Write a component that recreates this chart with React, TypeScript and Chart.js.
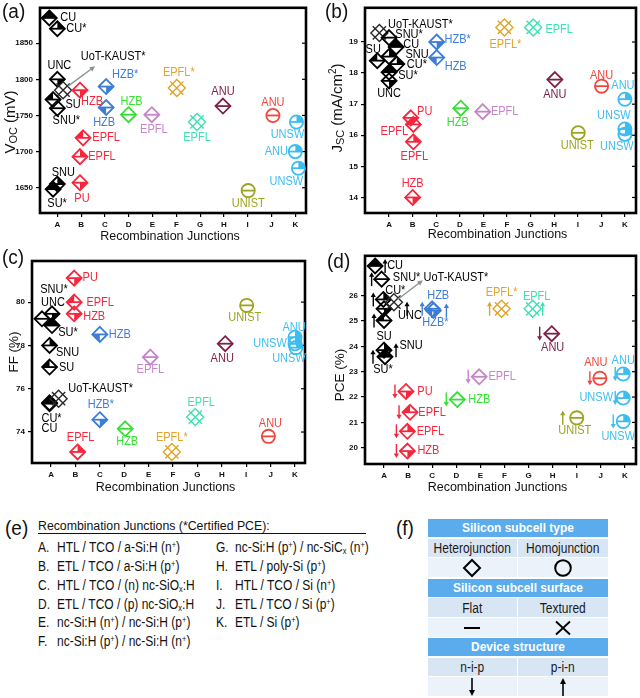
import React, { useEffect, useRef } from 'react';
import { Chart, registerables } from 'chart.js';

Chart.register(...registerables);

const FONT = '"Liberation Sans", Arial, sans-serif';
Chart.defaults.font.family = FONT;

// ---------------- data ----------------
const categories = ['A', 'B', 'C', 'D', 'E', 'F', 'G', 'H', 'I', 'J', 'K'];

const deviceNames = [
  'CU', 'CU*', 'UNC', 'UoT-KAUST*', 'SU', 'SU*', 'SNU', 'SNU*',
  'PU', 'EPFL', 'EPFL', 'HZB',
  'HZB', 'HZB*',
  'HZB', 'EPFL', 'EPFL*', 'EPFL', 'ANU', 'UNIST', 'ANU',
  'ANU', 'UNSW', 'UNSW',
];
const deviceJunction = [0, 0, 0, 0, 0, 0, 0, 0, 1, 1, 1, 1, 2, 2, 3, 4, 5, 6, 7, 8, 9, 10, 10, 10];
const deviceSubcell = [
  'hetero', 'hetero', 'hetero', 'hetero', 'hetero', 'hetero', 'hetero', 'hetero',
  'hetero', 'hetero', 'hetero', 'hetero', 'hetero', 'hetero',
  'hetero', 'hetero', 'hetero', 'hetero', 'hetero', 'homo', 'homo', 'homo', 'homo', 'homo',
];
const deviceSurface = [
  'flat', 'flat', 'flat', 'textured', 'flat', 'flat', 'flat', 'flat',
  'flat', 'flat', 'flat', 'flat', 'flat', 'flat',
  'flat', 'flat', 'textured', 'textured', 'flat', 'flat', 'flat', 'flat', 'flat', 'flat',
];
const deviceStructure = [
  'pin', 'pin', 'pin', 'pin', 'pin', 'pin', 'pin', 'pin',
  'nip', 'nip', 'nip', 'nip', 'pin', 'pin',
  'nip', 'nip', 'pin', 'pin', 'nip', 'pin', 'nip', 'nip', 'nip', 'nip',
];

const vocValues = [1885, 1870, 1800, 1785, 1772, 1648, 1655, 1760, 1657, 1719, 1693, 1785, 1761, 1790, 1751, 1751, 1788, 1741, 1763, 1646, 1750, 1700, 1741, 1677];
const jscValues = [18.84, 18.29, 17.75, 19.29, 18.4, 18.03, 18.53, 19.14, 16.56, 16.35, 15.79, 14.0, 18.5, 19.0, 16.87, 16.76, 19.47, 19.47, 17.79, 16.08, 17.58, 17.16, 16.2, 16.03];
const ffValues = [75.35, 75.31, 79.46, 75.54, 77.0, 78.92, 78.0, 79.23, 81.11, 80.0, 73.08, 79.46, 78.51, 74.57, 74.15, 77.46, 73.08, 74.69, 78.08, 79.85, 73.8, 78.38, 78.08, 77.9];
const pceValues = [27.17, 25.85, 25.48, 25.74, 25.02, 23.59, 23.85, 26.65, 22.22, 21.4, 20.65, 19.87, 25.48, 25.41, 21.9, 22.8, 25.48, 25.48, 24.5, 21.18, 22.74, 22.91, 21.96, 21.04];

// horizontal spread of overlapping devices within a junction column (category units)
const vocSpread = [-0.34, 0, 0, 0.24, -0.18, -0.18, 0, 0, -0.05, 0.08, -0.05, -0.05, 0.05, 0.05, -0.01, -0.03, 0.02, -0.13, -0.04, 0.02, 0.06, 0, 0.05, 0.13];
const jscSpread = [0.3, 0.33, 0, -0.41, -0.5, 0, 0, 0, -0.08, 0.03, 0.03, 0, 0.02, 0.02, 0.04, -0.03, -0.11, 0.11, 0.03, 0.02, 0.01, 0, 0, 0];
const ffSpread = [-0.06, -0.06, 0.04, 0.31, -0.06, 0.04, -0.06, -0.37, -0.05, -0.05, 0.09, -0.05, 0, 0, 0.04, 0.07, -0.05, -0.09, 0.14, 0.02, -0.09, 0, 0, 0.04];
const pceSpread = [-0.37, -0.03, 0, 0.41, 0, 0.04, 0, -0.1, -0.09, 0.08, -0.03, -0.03, 0, 0.05, 0.04, -0.05, -0.12, 0.17, -0.04, 0, -0.04, -0.07, -0.07, -0.07];

const vocTicks = [1650, 1700, 1750, 1800, 1850];
const jscTicks = [14, 15, 16, 17, 18, 19];
const ffTicks = [74, 76, 78, 80];
const pceTicks = [20, 21, 22, 23, 24, 25, 26];

const xTitle = 'Recombination Junctions';

// ---------------- styles / layout ----------------
const junctionColors = ['#000000', '#f7263c', '#3d7dd8', '#35e035', '#c685c9', '#e0a42a', '#3ee0b4', '#7c2347', '#9ba41f', '#f2463d', '#3cbdf0'];
const deviceFill = ['top', 'tr', 'br', 'none', 'tl', 'top', 'tr', 'none', 'br', 'tl', 'tr', 'br', 'bl', 'br', 'none', 'none', 'none', 'none', 'none', 'none', 'none', 'tr', 'tr', 'tr'];

const vocLabelOffsets = [[19, 0], [19, 0], [2, -14], [50, -34], [20, 5], [4, 14], [6, -11], [9, 12], [2, 16], [23, 0], [22, 0], [12, 11], [-2, 15], [19, -12], [3, -13], [2, 15], [2, -15], [0, 16], [0, -14], [0, 13], [0, -13], [-19, 0], [-9, 13], [-12, 13]];
const jscLabelOffsets = [[15, -2], [20, 1], [0, 13], [41, -8], [-4, -11], [19, 3], [28, -2], [20, -3], [14, -6], [-19, 7], [1, 15], [0, -14], [19, 9], [21, -2], [-3, 14], [22, 0], [1, 17], [26, 2], [0, 15], [-1, 13], [0, -11], [-2, -14], [-11, -13], [-8, 12]];
const ffLabelOffsets = [[0, 26], [2, 15], [1, -11], [42, -10], [17, 1], [16, 7], [18, 7], [12, -29], [16, 0], [26, 0], [3, -14], [20, 3], [20, 0], [1, -15], [2, 13], [0, 12], [0, -14], [6, -14], [-3, 15], [-2, 12], [2, -13], [-1, -10], [-25, 0], [-7, 11]];
const pceLabelOffsets = [[20, 0], [12, -9], [26, 7], [62, -25], [0, 16], [-2, 13], [27, -5], [25, -2], [19, 0], [22, 0], [23, 0], [21, 0], [6, -13], [2, 12], [22, 0], [23, 0], [0, -16], [4, -12], [1, 14], [-2, 13], [-4, -16], [0, -13], [-27, 0], [-5, 15]];
const pceArrowOffsets = [10, -10, 23, null, -10, -12, 12, -10, -11, -11, -11, -11, -10, 13, -11, -11, -12, 10, -12, -14, -10, -8, -8, -10];

type Part = [string, number, number];
type PanelCfg = {
  left: number; top: number; w: number; h: number;
  padTop: number; padRight: number; yAxisW: number; xAxisH: number;
  xMin: number; xMax: number; yMin: number; yMax: number;
  values: number[]; spread: number[]; yTicks: number[];
  labelOffsets: number[][]; arrows: (number | null)[] | null;
  leader: { index: number; from: number[]; to: number[] } | null;
  yTitle: Part[]; yTitlePos: number[]; xTitleDy: number;
};

const panels: PanelCfg[] = [
  {
    left: 0, top: 0, w: 320, h: 248, padTop: 3, padRight: 14, yAxisW: 40, xAxisH: 35,
    xMin: -0.73, xMax: 10.45, yMin: 1615, yMax: 1899,
    values: vocValues, spread: vocSpread, yTicks: vocTicks, labelOffsets: vocLabelOffsets, arrows: null,
    leader: { index: 3, from: [5, -4], to: [32, -24] },
    yTitle: [['V', 15, 0], ['OC', 11, 3], [' (mV)', 15, 0]], yTitlePos: [11, 122], xTitleDy: 24,
  },
  {
    left: 320, top: 0, w: 320, h: 248, padTop: 3, padRight: 4, yAxisW: 45, xAxisH: 35,
    xMin: -1.02, xMax: 10.47, yMin: 13.5, yMax: 20.1,
    values: jscValues, spread: jscSpread, yTicks: jscTicks, labelOffsets: jscLabelOffsets, arrows: null, leader: null,
    yTitle: [['J', 15, 0], ['SC', 11, 3], [' (mA/cm', 15, 0], ['2', 10, -5], [')', 15, 0]], yTitlePos: [18, 108], xTitleDy: 22,
  },
  {
    left: 0, top: 248, w: 320, h: 252, padTop: 13, padRight: 15, yAxisW: 32, xAxisH: 37,
    xMin: -0.78, xMax: 10.41, yMin: 72.57, yMax: 81.9,
    values: ffValues, spread: ffSpread, yTicks: ffTicks, labelOffsets: ffLabelOffsets, arrows: null, leader: null,
    yTitle: [['FF (%)', 13.5, 0]], yTitlePos: [14, 104], xTitleDy: 25,
  },
  {
    left: 320, top: 248, w: 320, h: 252, padTop: 7, padRight: 4, yAxisW: 45, xAxisH: 36,
    xMin: -0.79, xMax: 10.46, yMin: 19.36, yMax: 27.57,
    values: pceValues, spread: pceSpread, yTicks: pceTicks, labelOffsets: pceLabelOffsets, arrows: pceArrowOffsets,
    leader: { index: 3, from: [4, -3], to: [29, -22] },
    yTitle: [['PCE (%)', 13.5, 0]], yTitlePos: [20, 127], xTitleDy: 24,
  },
];

// ---------------- drawing helpers ----------------
function drawMarker(ctx: CanvasRenderingContext2D, x: number, y: number, i: number) {
  const color = i === 3 ? '#2a2a2a' : junctionColors[deviceJunction[i]];
  const fill = deviceFill[i];
  const textured = deviceSurface[i] === 'textured';
  ctx.save();
  ctx.translate(x, y);
  ctx.strokeStyle = color;
  ctx.fillStyle = color;
  ctx.lineWidth = textured ? 1.4 : 1.8;
  if (deviceSubcell[i] === 'hetero') {
    const r = textured ? 8.5 : 7.5;
    const T = [0, -r], R = [r, 0], B = [0, r], L = [-r, 0], C = [0, 0];
    const polys: Record<string, number[][]> = {
      top: [L, T, R], bottom: [L, B, R], tl: [C, L, T], tr: [C, T, R], br: [C, R, B], bl: [C, B, L], right: [T, R, B], left: [T, L, B],
    };
    if (fill !== 'none' && polys[fill]) {
      const p = polys[fill];
      ctx.beginPath();
      ctx.moveTo(p[0][0], p[0][1]);
      for (let k = 1; k < p.length; k++) ctx.lineTo(p[k][0], p[k][1]);
      ctx.closePath();
      ctx.fill();
    }
    ctx.beginPath();
    ctx.moveTo(T[0], T[1]); ctx.lineTo(R[0], R[1]); ctx.lineTo(B[0], B[1]); ctx.lineTo(L[0], L[1]); ctx.closePath();
    ctx.stroke();
    ctx.beginPath();
    if (textured) {
      const e = r * 0.78;
      ctx.moveTo(-e, -e); ctx.lineTo(e, e);
      ctx.moveTo(-e, e); ctx.lineTo(e, -e);
    } else {
      ctx.moveTo(-r, 0); ctx.lineTo(r, 0);
    }
    ctx.stroke();
  } else {
    const r = 6.6;
    const arcs: Record<string, number[]> = {
      tr: [-Math.PI / 2, 0], tl: [Math.PI, 1.5 * Math.PI], br: [0, Math.PI / 2], bl: [Math.PI / 2, Math.PI],
      top: [Math.PI, 2 * Math.PI], bottom: [0, Math.PI],
    };
    if (fill !== 'none' && arcs[fill]) {
      ctx.beginPath();
      ctx.moveTo(0, 0);
      ctx.arc(0, 0, r, arcs[fill][0], arcs[fill][1]);
      ctx.closePath();
      ctx.fill();
    }
    ctx.beginPath();
    ctx.arc(0, 0, r, 0, Math.PI * 2);
    ctx.stroke();
    ctx.beginPath();
    ctx.moveTo(-r, 0); ctx.lineTo(r, 0);
    ctx.stroke();
  }
  ctx.restore();
}

function drawStructureArrow(ctx: CanvasRenderingContext2D, x: number, y: number, up: boolean, color: string) {
  ctx.save();
  ctx.strokeStyle = color;
  ctx.fillStyle = color;
  ctx.lineWidth = 1.4;
  const half = 7;
  const tip = up ? y - half : y + half;
  const tail = up ? y + half : y - half;
  const dir = up ? 1 : -1;
  ctx.beginPath();
  ctx.moveTo(x, tail);
  ctx.lineTo(x, tip + dir * 3);
  ctx.stroke();
  ctx.beginPath();
  ctx.moveTo(x, tip);
  ctx.lineTo(x - 2.6, tip + dir * 4.5);
  ctx.lineTo(x + 2.6, tip + dir * 4.5);
  ctx.closePath();
  ctx.fill();
  ctx.restore();
}

function drawLeader(ctx: CanvasRenderingContext2D, x0: number, y0: number, x1: number, y1: number) {
  ctx.save();
  ctx.strokeStyle = '#8a9393';
  ctx.fillStyle = '#8a9393';
  ctx.lineWidth = 1.4;
  const ang = Math.atan2(y1 - y0, x1 - x0);
  ctx.beginPath();
  ctx.moveTo(x0, y0);
  ctx.lineTo(x1 - Math.cos(ang) * 3, y1 - Math.sin(ang) * 3);
  ctx.stroke();
  ctx.beginPath();
  ctx.moveTo(x1, y1);
  ctx.lineTo(x1 - Math.cos(ang - 0.45) * 6, y1 - Math.sin(ang - 0.45) * 6);
  ctx.lineTo(x1 - Math.cos(ang + 0.45) * 6, y1 - Math.sin(ang + 0.45) * 6);
  ctx.closePath();
  ctx.fill();
  ctx.restore();
}

function drawRotatedTitle(ctx: CanvasRenderingContext2D, parts: Part[], cx: number, cy: number) {
  ctx.save();
  ctx.translate(cx, cy);
  ctx.rotate(-Math.PI / 2);
  ctx.textBaseline = 'middle';
  ctx.textAlign = 'left';
  ctx.fillStyle = '#111';
  let total = 0;
  for (const [t, s] of parts) {
    ctx.font = `${s}px ${FONT}`;
    total += ctx.measureText(t).width;
  }
  let x = -total / 2;
  for (const [t, s, dy] of parts) {
    ctx.font = `${s}px ${FONT}`;
    ctx.fillText(t, x, dy);
    x += ctx.measureText(t).width;
  }
  ctx.restore();
}

function makePlugin(cfg: PanelCfg) {
  return {
    id: 'panelDecor',
    afterDraw(chart: any) {
      const { ctx, chartArea: a, scales } = chart;
      const meta = chart.getDatasetMeta(0);
      ctx.save();
      // frame
      ctx.strokeStyle = '#000';
      ctx.lineWidth = 2.6;
      ctx.strokeRect(a.left, a.top, a.right - a.left, a.bottom - a.top);
      // inner ticks on right edge
      ctx.lineWidth = 1.2;
      for (const t of cfg.yTicks) {
        const py = scales.y.getPixelForValue(t);
        ctx.beginPath();
        ctx.moveTo(a.right - 4, py);
        ctx.lineTo(a.right, py);
        ctx.stroke();
      }
      // x title
      ctx.font = `12.5px ${FONT}`;
      ctx.fillStyle = '#111';
      ctx.textAlign = 'center';
      ctx.textBaseline = 'middle';
      ctx.fillText(xTitle, (a.left + a.right) / 2 - 3, a.bottom + cfg.xTitleDy);
      // y title
      drawRotatedTitle(ctx, cfg.yTitle, cfg.yTitlePos[0], cfg.yTitlePos[1]);
      // markers
      const pts = meta.data.map((el: any) => [el.x, el.y]);
      pts.forEach((p: number[], i: number) => drawMarker(ctx, p[0], p[1], i));
      // device-structure arrows
      if (cfg.arrows) {
        pts.forEach((p: number[], i: number) => {
          const off = cfg.arrows![i];
          if (off === null || off === undefined) return;
          drawStructureArrow(ctx, p[0] + off, p[1], deviceStructure[i] === 'pin', junctionColors[deviceJunction[i]]);
        });
      }
      // leader arrow
      if (cfg.leader) {
        const p = pts[cfg.leader.index];
        drawLeader(ctx, p[0] + cfg.leader.from[0], p[1] + cfg.leader.from[1], p[0] + cfg.leader.to[0], p[1] + cfg.leader.to[1]);
      }
      // labels
      ctx.font = `11px ${FONT}`;
      ctx.textAlign = 'center';
      ctx.textBaseline = 'middle';
      pts.forEach((p: number[], i: number) => {
        const o = cfg.labelOffsets[i];
        ctx.save();
        ctx.translate(p[0] + o[0], p[1] + o[1]);
        ctx.scale(1, 1.12);
        ctx.fillStyle = junctionColors[deviceJunction[i]];
        ctx.fillText(deviceNames[i], 0, 0);
        ctx.restore();
      });
      ctx.restore();
    },
  };
}

function Panel({ cfg }: { cfg: PanelCfg }) {
  const ref = useRef<HTMLCanvasElement>(null);
  useEffect(() => {
    const canvas = ref.current;
    if (!canvas) return;
    const chart = new Chart(canvas, {
      type: 'scatter',
      data: {
        datasets: [
          {
            data: cfg.values.map((v, i) => ({ x: deviceJunction[i] + cfg.spread[i], y: v })),
            pointRadius: 0,
            pointHoverRadius: 0,
            showLine: false,
          },
        ],
      },
      options: {
        animation: false,
        responsive: false,
        events: [],
        layout: { padding: { left: 0, top: cfg.padTop, right: cfg.padRight, bottom: 0 } },
        plugins: { legend: { display: false }, tooltip: { enabled: false } },
        scales: {
          x: {
            type: 'linear',
            min: cfg.xMin,
            max: cfg.xMax,
            afterBuildTicks: (s: any) => { s.ticks = categories.map((_, i) => ({ value: i })); },
            afterFit: (s: any) => { s.height = cfg.xAxisH; },
            ticks: {
              callback: (v: any) => categories[Math.round(Number(v))] ?? '',
              font: { size: 8, weight: 'bold' },
              color: '#111',
              padding: 3,
              maxRotation: 0,
              autoSkip: false,
            },
            grid: { drawOnChartArea: false, drawTicks: true, tickLength: 4, color: '#000', lineWidth: 1.2 },
            border: { display: false },
          },
          y: {
            type: 'linear',
            min: cfg.yMin,
            max: cfg.yMax,
            afterBuildTicks: (s: any) => { s.ticks = cfg.yTicks.map((v) => ({ value: v })); },
            afterFit: (s: any) => { s.width = cfg.yAxisW; },
            ticks: {
              callback: (v: any) => String(v),
              font: { size: 8, weight: 'bold' },
              color: '#111',
              padding: 3,
              autoSkip: false,
            },
            grid: { drawOnChartArea: false, drawTicks: true, tickLength: 4, color: '#000', lineWidth: 1.2 },
            border: { display: false },
          },
        },
      } as any,
      plugins: [makePlugin(cfg)],
    });
    return () => chart.destroy();
  }, [cfg]);
  return (
    <canvas
      ref={ref}
      width={cfg.w}
      height={cfg.h}
      style={{ position: 'absolute', left: cfg.left, top: cfg.top, width: cfg.w, height: cfg.h }}
    />
  );
}

// ---------------- (e) and (f) content ----------------
const Sup = ({ c }: { c: string }) => (
  <span style={{ fontSize: '0.62em', position: 'relative', top: '-0.45em' }}>{c}</span>
);
const Sub = ({ c }: { c: string }) => (
  <span style={{ fontSize: '0.62em', position: 'relative', top: '0.25em' }}>{c}</span>
);

const junctionDescriptions: React.ReactNode[] = [
  <>HTL / TCO / a-Si:H (n<Sup c="+" />)</>,
  <>ETL / TCO / a-Si:H (p<Sup c="+" />)</>,
  <>HTL / TCO / (n) nc-SiO<Sub c="x" />:H</>,
  <>ETL / TCO / (p) nc-SiO<Sub c="x" />:H</>,
  <>nc-Si:H (n<Sup c="+" />) / nc-Si:H (p<Sup c="+" />)</>,
  <>nc-Si:H (p<Sup c="+" />) / nc-Si:H (n<Sup c="+" />)</>,
  <>nc-Si:H (p<Sup c="+" />) / nc-SiC<Sub c="x" /> (n<Sup c="+" />)</>,
  <>ETL / poly-Si (p<Sup c="+" />)</>,
  <>HTL / TCO / Si (n<Sup c="+" />)</>,
  <>ETL / TCO / Si (p<Sup c="+" />)</>,
  <>ETL / Si (p<Sup c="+" />)</>,
];
const legendTitle = 'Recombination Junctions (*Certified PCE):';

type Row = { kind: 'head' | 'text' | 'sym'; text?: string; l?: string; r?: string };
const tableRows: Row[] = [
  { kind: 'head', text: 'Silicon subcell type' },
  { kind: 'text', l: 'Heterojunction', r: 'Homojunction' },
  { kind: 'sym', l: 'diamond', r: 'circle' },
  { kind: 'head', text: 'Silicon subcell surface' },
  { kind: 'text', l: 'Flat', r: 'Textured' },
  { kind: 'sym', l: 'flat', r: 'cross' },
  { kind: 'head', text: 'Device structure' },
  { kind: 'text', l: 'n-i-p', r: 'p-i-n' },
  { kind: 'sym', l: 'down', r: 'up' },
];
const rowTops = [519, 539, 558, 579, 598, 618, 638, 658, 677];
const rowHeights = [18, 18, 19, 18, 19, 19, 18, 18, 19];

function Sym({ k }: { k: string }) {
  const common = { stroke: '#000', fill: 'none' };
  let inner: React.ReactNode = null;
  if (k === 'diamond') inner = <polygon points="11,2 19,10 11,18 3,10" strokeWidth={2} {...common} />;
  if (k === 'circle') inner = <circle cx={11} cy={10} r={7.8} strokeWidth={2} {...common} />;
  if (k === 'flat') inner = <line x1={3} y1={10} x2={19} y2={10} strokeWidth={2} {...common} />;
  if (k === 'cross')
    inner = (
      <>
        <line x1={4} y1={3.5} x2={18} y2={16.5} strokeWidth={1.8} {...common} />
        <line x1={4} y1={16.5} x2={18} y2={3.5} strokeWidth={1.8} {...common} />
      </>
    );
  if (k === 'down')
    inner = (
      <>
        <line x1={11} y1={1} x2={11} y2={14} strokeWidth={1.6} {...common} />
        <polygon points="8,13 14,13 11,19" fill="#000" />
      </>
    );
  if (k === 'up')
    inner = (
      <>
        <line x1={11} y1={6} x2={11} y2={19} strokeWidth={1.6} {...common} />
        <polygon points="8,7 14,7 11,1" fill="#000" />
      </>
    );
  return (
    <svg width={22} height={20} style={{ display: 'block' }}>
      {inner}
    </svg>
  );
}

const TABLE_L = 428;
const TABLE_MID = 517;
const TABLE_R = 608;

function Table() {
  return (
    <>
      {tableRows.map((row, i) => {
        const top = rowTops[i];
        const h = rowHeights[i];
        if (row.kind === 'head') {
          return (
            <div
              key={i}
              style={{
                position: 'absolute', left: TABLE_L, top, width: TABLE_R - TABLE_L, height: h,
                background: '#5aacec', color: '#fff', fontWeight: 'bold', fontSize: 12,
                display: 'flex', alignItems: 'center', justifyContent: 'center', fontFamily: FONT,
              }}
            >
              <span style={{ display: 'inline-block', transform: 'scaleY(1.12)' }}>{row.text}</span>
            </div>
          );
        }
        const bg = row.kind === 'text' ? '#d8e6f4' : '#ebf2f9';
        const cell = (x: number, w: number, content: string | undefined, key: string) => (
          <div
            key={key}
            style={{
              position: 'absolute', left: x, top, width: w, height: h, background: bg,
              display: 'flex', alignItems: 'center', justifyContent: 'center',
              fontSize: 12, color: '#1a1a1a', fontFamily: FONT,
            }}
          >
            {row.kind === 'text' ? (
              <span style={{ display: 'inline-block', transform: 'scaleY(1.15)' }}>{content}</span>
            ) : (
              <Sym k={content || ''} />
            )}
          </div>
        );
        return (
          <React.Fragment key={i}>
            {cell(TABLE_L, TABLE_MID - TABLE_L - 0.5, row.l, 'l')}
            {cell(TABLE_MID + 0.5, TABLE_R - TABLE_MID - 0.5, row.r, 'r')}
          </React.Fragment>
        );
      })}
    </>
  );
}

const panelLetters = [
  { t: '(a)', x: 2, y: 1 },
  { t: '(b)', x: 325, y: 1 },
  { t: '(c)', x: 2, y: 247 },
  { t: '(d)', x: 327, y: 251 },
  { t: '(e)', x: 5, y: 518 },
  { t: '(f)', x: 396, y: 518 },
];

const col1Y = [547, 566, 585, 604, 622, 641];
const col2Y = [547, 566, 585, 604, 622];

export default function App() {
  return (
    <div
      style={{
        position: 'absolute', left: 0, top: 0, width: 640, height: 698, background: '#fff',
        overflow: 'hidden', fontFamily: FONT, color: '#111',
      }}
    >
      {panels.map((p, i) => (
        <Panel key={i} cfg={p} />
      ))}
      {panelLetters.map((l) => (
        <div
          key={l.t}
          style={{ position: 'absolute', left: l.x, top: l.y, fontSize: 19, lineHeight: '22px', color: '#111' }}
        >
          <span style={{ display: 'inline-block', transform: 'scaleY(1.08)' }}>{l.t}</span>
        </div>
      ))}
      <div
        style={{
          position: 'absolute', left: 38, top: 520, width: 328, height: 13, lineHeight: '13px',
          fontSize: 12.3, borderBottom: '1px solid #111', whiteSpace: 'nowrap',
        }}
      >
        <span>{legendTitle}</span>
      </div>
      {junctionDescriptions.map((d, i) => {
        const inCol1 = i < 6;
        const y = inCol1 ? col1Y[i] : col2Y[i - 6];
        const x = inCol1 ? 38 : 216;
        return (
          <React.Fragment key={i}>
            <div style={{ position: 'absolute', left: x, top: y - 9, height: 18, lineHeight: '18px', fontSize: 12, whiteSpace: 'nowrap' }}>
              <span style={{ display: 'inline-block', transform: 'scaleY(1.17)' }}>{categories[i]}.</span>
            </div>
            <div style={{ position: 'absolute', left: x + 19, top: y - 9, height: 18, lineHeight: '18px', fontSize: 12, whiteSpace: 'nowrap' }}>
              <span style={{ display: 'inline-block', transform: 'scaleY(1.17)' }}>{d}</span>
            </div>
          </React.Fragment>
        );
      })}
      <Table />
    </div>
  );
}
